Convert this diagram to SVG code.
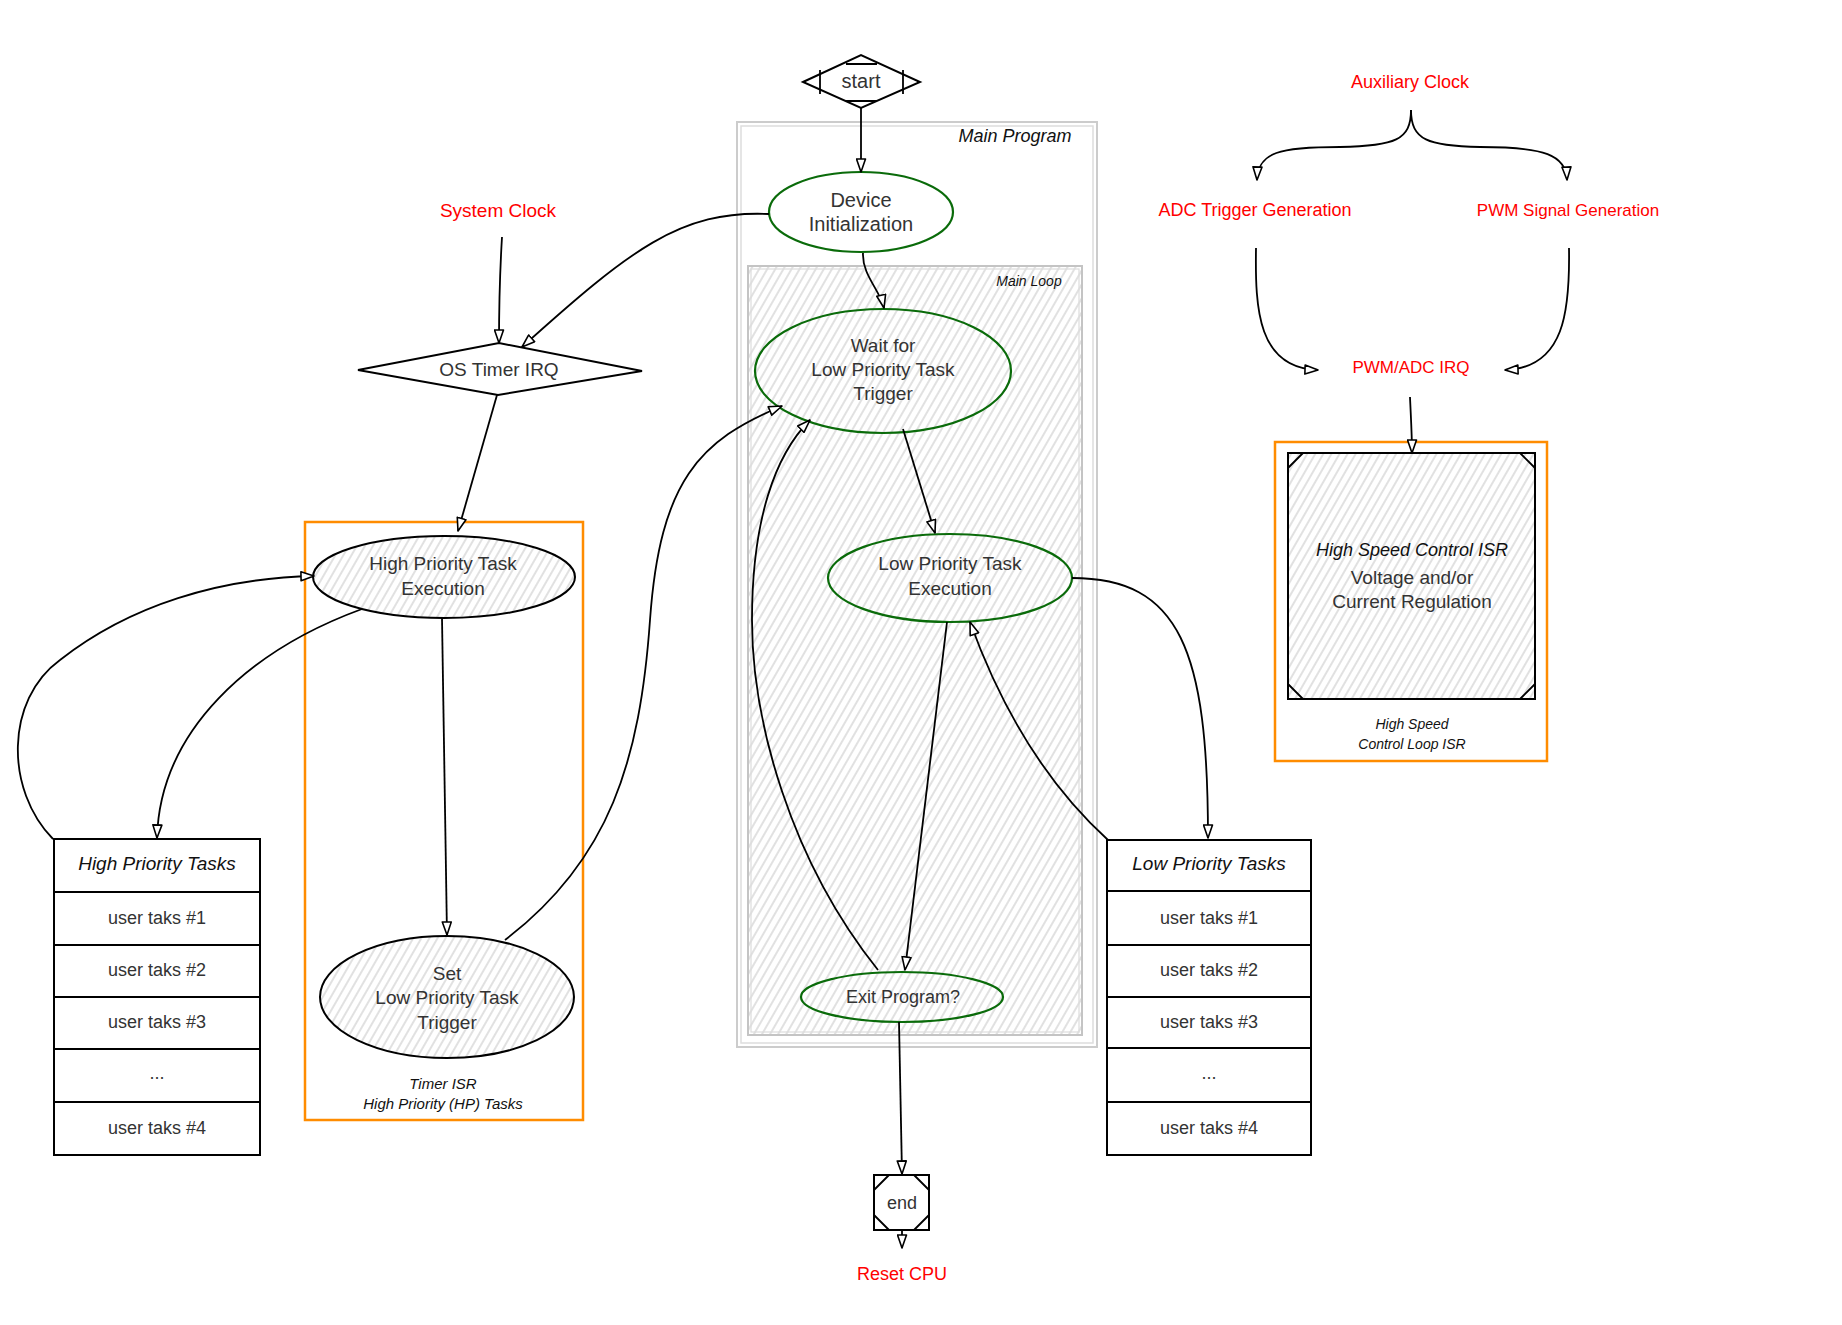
<svg xmlns="http://www.w3.org/2000/svg" width="1842" height="1325" viewBox="0 0 1842 1325">
<defs>
<pattern id="hatch" patternUnits="userSpaceOnUse" width="7" height="7" patternTransform="rotate(30)"><line x1="1" y1="0" x2="1" y2="7" stroke="#d4d4d4" stroke-width="1.4"/></pattern>
<marker id="arr" viewBox="0 0 15 11" refX="14" refY="5.5" markerWidth="15" markerHeight="11" markerUnits="userSpaceOnUse" orient="auto"><path d="M1,1 L14,5.5 L1,10 Z" fill="#fff" stroke="#000" stroke-width="1.6" stroke-linejoin="round"/></marker>
<style>
.lbl{font-family:"Liberation Sans",Arial,sans-serif;fill:#333;text-anchor:middle;dominant-baseline:central}
.hd{font-family:"Liberation Sans",Arial,sans-serif;font-style:italic;fill:#111;text-anchor:middle;dominant-baseline:central}
.red{font-family:"Liberation Sans",Arial,sans-serif;fill:#ff0000;text-anchor:middle;dominant-baseline:central}
.conn{fill:none;stroke:#000;stroke-width:1.8;marker-end:url(#arr)}
.green{fill:none;stroke:#0a6b0a;stroke-width:2.2}
.blk{fill:#fff;stroke:#000;stroke-width:2}
.hat{fill:url(#hatch);stroke:#000;stroke-width:2}
.orange{fill:none;stroke:#ff8c00;stroke-width:2.5}
.grey{fill:none;stroke:#cccccc;stroke-width:2}
.thin{fill:none;stroke:#000;stroke-width:1.8}
</style>
</defs>
<rect width="1842" height="1325" fill="#fff"/>

<g id="main-program">
<rect x="737" y="122" width="360" height="925" class="grey"/>
<rect x="741" y="126" width="352" height="917" fill="none" stroke="#dddddd" stroke-width="1.5"/>
<text class="hd" x="1015" y="136" font-size="18">Main Program</text>
</g>
<g id="main-loop">
<rect x="748" y="266" width="334" height="769" fill="url(#hatch)" stroke="#c4c4c4" stroke-width="2"/>
<rect x="751" y="269" width="328" height="763" fill="none" stroke="#dddddd" stroke-width="1.2"/>
<text class="hd" x="1029" y="281" font-size="14">Main Loop</text>
</g>
<g id="timer-isr">
<rect x="305" y="522" width="278" height="598" class="orange"/>
<text class="hd" x="443" y="1083" font-size="15">Timer ISR</text>
<text class="hd" x="443" y="1103" font-size="15">High Priority (HP) Tasks</text>
</g>
<g id="hs-isr">
<rect x="1275" y="442" width="272" height="319" class="orange"/>
<text class="hd" x="1412" y="724" font-size="14">High Speed</text>
<text class="hd" x="1412" y="744" font-size="14">Control Loop ISR</text>
</g>

<g id="start">
<polygon points="803,82 861,55 920,82 861,108" class="blk"/>
<path d="M820,70 L820,94 M903,70 L903,94 M846,64 L877,64 M846,101 L877,101" class="thin"/>
<text class="lbl" x="861" y="81" font-size="20">start</text>
</g>
<g id="device-init">
<ellipse cx="861" cy="212" rx="92" ry="40" class="green"/>
<text class="lbl" x="861" y="200" font-size="20">Device</text>
<text class="lbl" x="861" y="224" font-size="20">Initialization</text>
</g>
<g id="wait-trigger">
<ellipse cx="883" cy="371" rx="128" ry="62" class="green"/>
<text class="lbl" x="883" y="345" font-size="19">Wait for</text>
<text class="lbl" x="883" y="369" font-size="19">Low Priority Task</text>
<text class="lbl" x="883" y="393" font-size="19">Trigger</text>
</g>
<g id="lp-exec">
<ellipse cx="950" cy="578" rx="122" ry="44" class="green"/>
<text class="lbl" x="950" y="563" font-size="19">Low Priority Task</text>
<text class="lbl" x="950" y="588" font-size="19">Execution</text>
</g>
<g id="exit-program">
<ellipse cx="902" cy="997" rx="101" ry="25" class="green"/>
<text class="lbl" x="903" y="997" font-size="18">Exit Program?</text>
</g>
<g id="end">
<rect x="874" y="1175" width="55" height="55" class="blk"/>
<path d="M874,1190 L889,1175 M914,1175 L929,1190 M874,1215 L889,1230 M914,1230 L929,1215" class="thin"/>
<text class="lbl" x="902" y="1203" font-size="18">end</text>
</g>
<g id="reset-cpu"><text class="red" x="902" y="1274" font-size="18">Reset CPU</text></g>

<g id="system-clock"><text class="red" x="498" y="210" font-size="19">System Clock</text></g>
<g id="os-timer-irq">
<polygon points="358,370 499,343 642,371 498,395" class="blk"/>
<text class="lbl" x="499" y="369" font-size="19">OS Timer IRQ</text>
</g>
<g id="hp-exec">
<ellipse cx="444" cy="577" rx="131" ry="41" class="hat"/>
<text class="lbl" x="443" y="563" font-size="19">High Priority Task</text>
<text class="lbl" x="443" y="588" font-size="19">Execution</text>
</g>
<g id="set-trigger">
<ellipse cx="447" cy="997" rx="127" ry="61" class="hat"/>
<text class="lbl" x="447" y="973" font-size="19">Set</text>
<text class="lbl" x="447" y="997" font-size="19">Low Priority Task</text>
<text class="lbl" x="447" y="1022" font-size="19">Trigger</text>
</g>

<g id="hp-tasks">
<rect x="54" y="839" width="206" height="316" class="blk"/>
<path d="M54,892 L260,892 M54,945 L260,945 M54,997 L260,997 M54,1049 L260,1049 M54,1102 L260,1102" class="thin"/>
<text class="hd" x="157" y="863" font-size="19">High Priority Tasks</text>
<text class="lbl" x="157" y="918" font-size="18">user taks #1</text>
<text class="lbl" x="157" y="970" font-size="18">user taks #2</text>
<text class="lbl" x="157" y="1022" font-size="18">user taks #3</text>
<text class="lbl" x="157" y="1073" font-size="18">...</text>
<text class="lbl" x="157" y="1128" font-size="18">user taks #4</text>
</g>
<g id="lp-tasks">
<rect x="1107" y="840" width="204" height="315" class="blk"/>
<path d="M1107,891 L1311,891 M1107,945 L1311,945 M1107,997 L1311,997 M1107,1048 L1311,1048 M1107,1102 L1311,1102" class="thin"/>
<text class="hd" x="1209" y="863" font-size="19">Low Priority Tasks</text>
<text class="lbl" x="1209" y="918" font-size="18">user taks #1</text>
<text class="lbl" x="1209" y="970" font-size="18">user taks #2</text>
<text class="lbl" x="1209" y="1022" font-size="18">user taks #3</text>
<text class="lbl" x="1209" y="1073" font-size="18">...</text>
<text class="lbl" x="1209" y="1128" font-size="18">user taks #4</text>
</g>

<g id="aux-clock"><text class="red" x="1410" y="82" font-size="18">Auxiliary Clock</text></g>
<g id="adc-trigger"><text class="red" x="1255" y="210" font-size="18">ADC Trigger Generation</text></g>
<g id="pwm-signal"><text class="red" x="1568" y="210" font-size="17">PWM Signal Generation</text></g>
<g id="pwm-adc-irq"><text class="red" x="1411" y="367" font-size="17">PWM/ADC IRQ</text></g>
<g id="hs-control">
<rect x="1288" y="453" width="247" height="246" class="hat"/>
<path d="M1288,468 L1303,453 M1520,453 L1535,468 M1288,684 L1303,699 M1520,699 L1535,684" class="thin"/>
<text class="hd" x="1412" y="550" font-size="18">High Speed Control ISR</text>
<text class="lbl" x="1412" y="577" font-size="19">Voltage and/or</text>
<text class="lbl" x="1412" y="601" font-size="19">Current Regulation</text>
</g>

<g id="connectors">
<path class="conn" d="M861,108 L861,172"/>
<path class="conn" d="M863,253 C862,275 880,290 884,308"/>
<path class="conn" d="M903,429 L935,533"/>
<path class="conn" d="M947,622 L905,970"/>
<path class="conn" d="M1108,840 Q1020,760 970,622"/>
<path class="conn" d="M1072,578 C1180,578 1208,650 1208,838"/>
<path class="conn" d="M878,970 C790,860 752,720 752,620 C752,520 775,455 810,420"/>
<path class="conn" d="M899,1022 L902,1174"/>
<path class="conn" d="M902,1231 L902,1248"/>
<path class="conn" d="M769,214 C680,210 630,250 522,347"/>
<path class="conn" d="M502,237 C500,270 499,300 499,343"/>
<path class="conn" d="M497,395 L458,531"/>
<path class="conn" d="M442,618 L447,935"/>
<path class="conn" d="M505,940 C610,860 640,760 650,620 C660,480 700,440 782,406"/>
<path class="conn" d="M362,609 C250,650 160,730 157,838"/>
<path class="conn" d="M53,839 C5,790 5,700 60,660 C130,605 220,578 314,576"/>
<path class="conn" d="M1411,110 C1411,140 1395,146 1340,147 C1280,147 1258,152 1257,180"/>
<path class="conn" d="M1411,110 C1411,140 1428,146 1480,147 C1545,147 1566,155 1567,180"/>
<path class="conn" d="M1256,248 C1255,310 1258,368 1318,370"/>
<path class="conn" d="M1569,248 C1570,310 1565,368 1505,370"/>
<path class="conn" d="M1410,397 C1411,420 1412,435 1412,453"/>
</g>
</svg>
